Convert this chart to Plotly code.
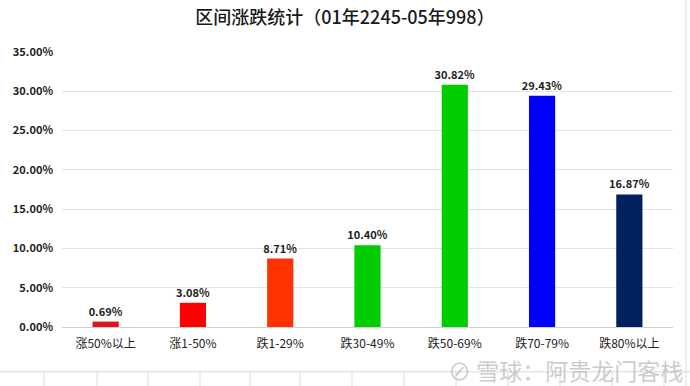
import plotly.graph_objects as go

categories = ["涨50%以上", "涨1-50%", "跌1-29%", "跌30-49%", "跌50-69%", "跌70-79%", "跌80%以上"]
values = [0.69, 3.08, 8.71, 10.40, 30.82, 29.43, 16.87]
bar_colors = ["#E0141C", "#FF0000", "#FF3300", "#00CC00", "#00CC00", "#0000FF", "#002060"]
tick_vals = [0, 5, 10, 15, 20, 25, 30, 35]
tick_text = ["%.2f%%" % v for v in tick_vals]
title_text = "区间涨跌统计（01年2245-05年998）"
watermark = "雪球：阿贵龙门客栈"

FONT = "Noto Sans CJK SC, Noto Sans, sans-serif"

fig = go.Figure()
fig.add_trace(go.Bar(
    x=categories, y=values,
    marker=dict(color=bar_colors, line=dict(width=0)),
    width=0.3,
    text=["%.2f%%" % v for v in values],
    textposition="outside",
    constraintext="none",
    textfont=dict(family=FONT, size=11, color="#222222", weight="bold"),
    cliponaxis=False,
))

shapes = []
# spreadsheet cell lines below the chart
shapes.append(dict(type="line", xref="paper", yref="paper", x0=-0.11, x1=1.03, y0=-0.163, y1=-0.163,
                   line=dict(color="#d8d8d8", width=1)))
for xp in [44, 97, 148, 200, 250, 300, 352, 404, 456, 508, 560, 612, 664]:
    shapes.append(dict(type="line", xref="paper", yref="paper",
                       x0=(xp - 62) / 611, x1=(xp - 62) / 611, y0=-0.163, y1=-0.215,
                       line=dict(color="#dcdcdc", width=1)))
shapes.append(dict(type="line", xref="paper", yref="paper", x0=(686 - 62) / 611, x1=(686 - 62) / 611,
                   y0=-0.215, y1=1.2, line=dict(color="#dcdcdc", width=1)))

fig.update_layout(
    width=690, height=386,
    margin=dict(l=62, r=17, t=52, b=59),
    paper_bgcolor="white", plot_bgcolor="white",
    showlegend=False,
    title=dict(text=title_text, x=0.5, xanchor="center", y=0.955, yanchor="middle",
               font=dict(family=FONT, size=18, color="#1a1a1a", weight=500)),
    font=dict(family=FONT),
    xaxis=dict(showgrid=False, showline=False, ticks="", ticklabelstandoff=8,
               tickfont=dict(family=FONT, size=12, color="#222222")),
    yaxis=dict(range=[0, 35], tickvals=tick_vals, ticktext=tick_text,
               showgrid=True, gridcolor="#e2e2e2", gridwidth=1,
               zeroline=True, zerolinecolor="#d0d0d0", zerolinewidth=1,
               showline=False, ticks="", ticklabelstandoff=8,
               tickfont=dict(family=FONT, size=11, color="#222222", weight="bold")),
    bargap=0.7,
    shapes=shapes,
    annotations=[dict(text="⊘ " + watermark, xref="paper", yref="paper", x=1.02, y=-0.158,
                      xanchor="right", yanchor="middle", showarrow=False,
                      font=dict(family=FONT, size=23, color="rgba(190,190,190,0.8)"))],
)

fig.write_html("out.html")
